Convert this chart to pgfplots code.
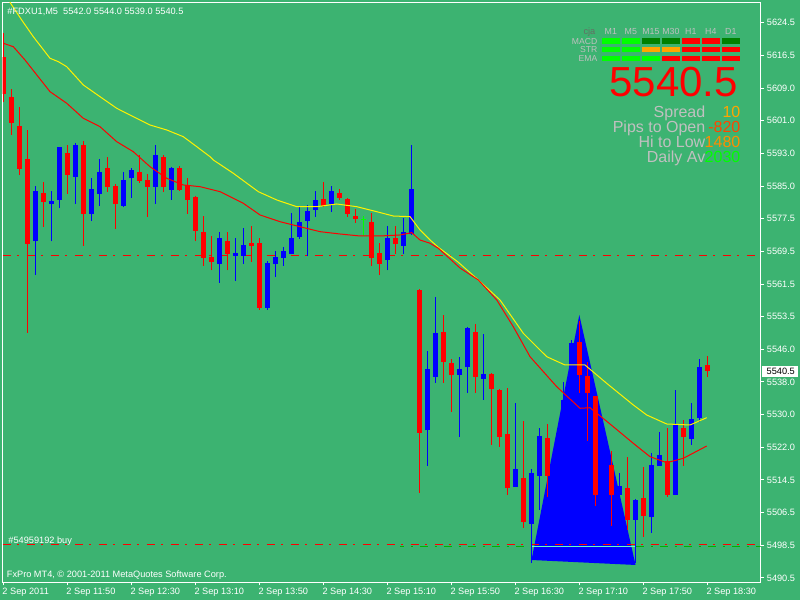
\documentclass[border=0pt]{standalone}
\usepackage{fontspec}
\setmainfont{Liberation Sans}
\usepackage{pgfplots}
\usepackage{pgfplotstable}
\pgfplotsset{compat=1.18}

\definecolor{bg}{RGB}{60,179,113}
\definecolor{lime}{RGB}{0,255,0}
\definecolor{dgreen}{RGB}{0,128,0}
\definecolor{orng}{RGB}{255,165,0}
\definecolor{dorng}{RGB}{255,140,0}
\definecolor{ored}{RGB}{255,69,0}
\definecolor{silv}{RGB}{192,192,192}
\definecolor{cjag}{RGB}{100,110,100}

\newcommand{\tf}{\fontsize{9.2bp}{11bp}\selectfont}

% k = bar index (5 min bars from 11:10), o h l c
\pgfplotstableread{
k o h l c
0 5616.1 5622.1 5605.4 5607.4
1 5606.6 5608.5 5597.4 5600.4
2 5599.6 5604.2 5587.8 5589.2
3 5591.6 5598.6 5549.7 5571.2
5 5583.4 5586.1 5575.3 5581.3
8 5593.1 5595.0 5583.2 5587.8
10 5595.0 5596.0 5570.7 5578.4
13 5589.4 5592.1 5583.7 5584.9
14 5585.1 5585.6 5574.8 5580.8
17 5588.5 5592.6 5585.9 5586.4
18 5586.5 5588.0 5577.7 5584.9
20 5592.1 5592.6 5583.7 5584.9
22 5589.4 5589.9 5584.0 5584.2
23 5585.3 5587.0 5578.4 5581.8
24 5582.4 5582.6 5571.7 5574.3
25 5574.1 5577.9 5565.9 5567.8
26 5568.0 5573.0 5564.7 5566.8
28 5571.8 5574.0 5564.7 5568.8
31 5571.3 5575.4 5566.8 5570.7
32 5571.3 5572.6 5555.2 5555.7
40 5582.0 5586.1 5580.1 5580.3
42 5583.4 5584.4 5581.7 5582.2
43 5582.0 5582.1 5577.7 5578.4
44 5577.9 5579.6 5576.2 5577.1
46 5576.4 5578.6 5565.9 5567.8
47 5568.9 5571.3 5563.7 5566.3
49 5572.6 5575.4 5568.8 5571.2
52 5560.0 5560.2 5511.1 5525.6
55 5549.9 5554.0 5537.6 5542.7
56 5542.4 5543.4 5530.6 5539.6
59 5549.9 5551.8 5535.1 5539.1
61 5539.7 5539.9 5522.7 5536.2
62 5535.9 5536.0 5522.2 5524.6
63 5525.3 5536.4 5510.6 5512.1
65 5514.6 5528.5 5502.6 5504.1
68 5524.4 5527.7 5510.1 5515.2
72 5547.5 5552.4 5535.2 5539.5
73 5539.3 5542.5 5523.6 5535.2
74 5534.4 5534.5 5507.9 5510.5
76 5517.8 5521.2 5503.1 5510.5
78 5512.3 5519.8 5502.1 5504.5
80 5509.9 5517.3 5500.5 5505.5
83 5518.7 5526.8 5510.1 5510.6
85 5526.8 5528.7 5517.6 5524.6
88 5542.0 5544.0 5539.0 5540.5
}\bear

\pgfplotstableread{
k o h l c
4 5571.7 5585.1 5563.7 5583.9
6 5580.8 5583.9 5571.7 5581.5
7 5581.8 5594.6 5579.9 5594.5
9 5587.3 5595.5 5580.8 5595.0
11 5578.4 5587.0 5576.7 5584.4
12 5583.2 5591.6 5580.3 5588.5
15 5580.3 5588.5 5580.0 5586.5
16 5586.9 5589.4 5582.3 5589.0
19 5584.9 5595.0 5580.8 5592.6
21 5584.2 5589.6 5581.8 5589.4
27 5566.3 5574.0 5561.8 5572.6
29 5568.3 5572.6 5562.2 5568.9
30 5568.3 5575.0 5566.3 5570.9
33 5555.7 5567.0 5555.2 5566.5
34 5566.3 5569.4 5563.2 5568.0
35 5567.8 5570.4 5565.9 5569.4
36 5568.8 5578.6 5568.6 5572.6
37 5572.9 5580.1 5572.4 5576.4
38 5576.7 5580.4 5568.3 5579.1
39 5579.3 5584.0 5577.7 5581.6
41 5580.8 5585.1 5578.8 5583.9
48 5567.3 5575.4 5564.7 5572.6
50 5570.7 5577.4 5568.8 5574.0
51 5573.4 5595.0 5573.3 5584.4
53 5526.1 5545.3 5517.6 5540.9
54 5539.1 5558.3 5537.6 5549.5
57 5539.6 5543.8 5524.6 5540.9
58 5541.3 5551.0 5535.1 5550.8
60 5538.6 5549.4 5533.5 5539.7
64 5512.5 5532.7 5512.4 5516.8
66 5503.6 5516.8 5494.1 5515.8
67 5515.2 5526.7 5506.9 5524.8
69 5504.5 5523.3 5502.1 5521.4
70 5516.6 5537.9 5514.2 5533.5
71 5533.5 5548.0 5531.0 5547.1
75 5510.5 5521.0 5507.8 5517.5
77 5510.5 5515.8 5505.0 5512.7
79 5504.5 5509.5 5494.0 5509.4
81 5505.1 5520.7 5501.4 5517.8
82 5517.6 5525.7 5517.5 5520.2
84 5510.6 5535.9 5510.5 5527.3
86 5524.1 5532.7 5522.7 5528.9
87 5529.2 5543.4 5528.2 5541.5
}\bull

\pgfplotstableread{
k o h l c
45 5576.9 5577.9 5573.0 5576.9
}\doji

\pgfplotsset{
  wick/.style={draw=none, no markers, error bars/.cd, y dir=plus, y explicit,
    error mark=none, error bar style={line width=1bp, draw=#1}},
  body/.style={draw=none, no markers, error bars/.cd, y dir=plus, y explicit,
    error mark=none, error bar style={line width=5bp, draw=#1}},
}

\begin{document}
\begin{tikzpicture}
\fill[bg] (0,0) rectangle (800bp,600bp);
\path[use as bounding box] (0,0) rectangle (800bp,600bp);
\begin{axis}[
  at={(2.7bp,17.7bp)}, anchor=south west,
  scale only axis, width=758bp, height=580bp,
  xmin=-0.075, xmax=94.675, ymin=5489.46, ymax=5629.42,
  axis line style={white, line width=1bp},
  tick style={white, line width=1bp},
  tick align=outside, major tick length=3bp,
  xtick pos=bottom, ytick pos=right, yticklabel pos=right,
  xtick={0,8,...,88},
  xticklabels={2 Sep 2011, 2 Sep 11:50, 2 Sep 12:30, 2 Sep 13:10, 2 Sep 13:50,
    2 Sep 14:30, 2 Sep 15:10, 2 Sep 15:50, 2 Sep 16:30, 2 Sep 17:10,
    2 Sep 17:50, 2 Sep 18:30},
  ytick={5624.5,5616.618,5608.735,5600.853,5592.971,5585.088,5577.206,5569.324,
    5561.441,5553.559,5545.676,5537.794,5529.912,5522.029,5514.147,5506.265,
    5498.382,5490.5},
  yticklabels={5624.5,5616.5,5609.0,5601.0,5593.0,5585.0,5577.5,5569.5,5561.5,
    5553.5,5546.0,5538.0,5530.0,5522.0,5514.5,5506.5,5498.5,5490.5},
  /pgf/number format/assume math mode=true,
  ticklabel style={font=\tf, text=white, inner sep=0pt},
  xticklabel style={anchor=north west, xshift=-1bp, yshift=-3bp},
  yticklabel style={anchor=west, xshift=3bp},
]
% triangle object
\addplot[draw=none, fill=blue] coordinates {(66.03,5494.84) (72.0,5553.97) (79.03,5493.64) (66.03,5494.84)};
% horizontal lines
\addplot[red, line width=1bp, dash pattern=on 8bp off 6.5bp on 2bp off 7.5bp] coordinates {(-0.1,5568.37) (95,5568.37)};
\addplot[red, line width=1bp, dash pattern=on 8bp off 6.5bp on 2bp off 7.5bp] coordinates {(-0.1,5498.63) (95,5498.63)};
\addplot[green!70!black, line width=1bp, dash pattern=on 8bp off 6.5bp on 2bp off 7.5bp, dash phase=4bp] coordinates {(49.6,5498.06) (95,5498.06)};
\addplot[green!40!cyan!60!white, line width=1bp] coordinates {(66.1,5498.06) (79.0,5498.06)};
% candles
\addplot[wick=red] table[x=k, y=l, y error plus expr=\thisrow{h}-\thisrow{l}] {\bear};
\addplot[body=red] table[x=k, y=c, y error plus expr=\thisrow{o}-\thisrow{c}] {\bear};
\addplot[wick=blue] table[x=k, y=l, y error plus expr=\thisrow{h}-\thisrow{l}] {\bull};
\addplot[body=blue] table[x=k, y=o, y error plus expr=\thisrow{c}-\thisrow{o}] {\bull};
\addplot[wick=lime] table[x=k, y=l, y error plus expr=\thisrow{h}-\thisrow{l}] {\doji};
\addplot[only marks, mark=-, mark size=2.7bp, lime, line width=1bp] table[x=k, y=c] {\doji};
% moving averages
\addplot[yellow, line width=1bp] coordinates {
(0,5632.13) (1.05,5628.77) (2.3,5625.15) (3.75,5621.12) (5.84,5615.91) (6.88,5615.09)
(7.93,5613.88) (10.0,5609.47) (12.09,5606.64) (14.18,5603.84) (16.25,5601.82)
(18.34,5599.81) (20.43,5598.61) (22.5,5596.99) (24.18,5594.58) (25.84,5592.16)
(26.25,5591.37) (28.75,5588.16) (31.88,5583.72) (34.18,5581.72) (36.68,5580.10)
(39.18,5580.10) (41.68,5580.75) (44.18,5580.10) (46.68,5578.89) (48.75,5577.85)
(50.84,5577.69) (52.09,5574.48) (53.34,5572.07) (54.38,5570.30) (56.84,5566.75)
(59.38,5562.41) (62.09,5557.59) (65.0,5549.55) (67.93,5543.90) (70.21,5541.90)
(72.71,5541.90) (75.42,5537.48) (78.75,5532.25) (80.43,5529.83) (82.93,5527.66)
(85.84,5527.42) (87.93,5529.18)};
\addplot[red, line width=1bp] coordinates {
(0,5619.53) (1.25,5618.71) (2.71,5615.50) (5.84,5607.85) (7.93,5605.05) (10.0,5601.43)
(12.09,5599.40) (14.18,5595.78) (16.25,5593.37) (18.34,5589.75) (20.43,5586.95)
(22.5,5585.34) (24.59,5584.93) (27.09,5583.72) (30.0,5580.92) (32.09,5578.10)
(34.59,5576.48) (37.09,5575.27) (39.59,5574.07) (42.09,5573.51) (44.59,5573.03)
(47.09,5573.03) (49.59,5573.27) (51.05,5573.83) (52.09,5572.06) (53.34,5571.27)
(54.38,5570.06) (57.09,5565.31) (59.38,5562.41) (61.68,5557.59) (63.75,5551.14)
(65.84,5543.90) (69.18,5536.66) (72.09,5531.45) (73.34,5531.59) (76.25,5527.01)
(78.75,5523.00) (80.84,5519.77) (82.93,5518.32) (85.0,5519.38) (87.93,5522.35)};
\end{axis}

\begin{scope}[x=1bp, y=-1bp, shift={(0,600bp)}]
\node[anchor=base west, inner sep=0pt, text=white, font=\tf] at (7.3,14.3) {\#FDXU1,M5\ \ 5542.0 5544.0 5539.0 5540.5};
\node[anchor=base west, inner sep=0pt, text=white, font=\tf] at (6.7,577.3) {FxPro MT4, © 2001-2011 MetaQuotes Software Corp.};
\node[anchor=base west, inner sep=0pt, text=white, font=\tf] at (8.3,543.3) {\#54959192 buy};
% last price label
\fill[white] (762.3,366.5) rectangle (797.7,376.9);
\node[anchor=west, inner sep=0pt, text=black, font=\tf] at (766.5,371.7) {5540.5};
% indicator panel
\node[anchor=base east, inner sep=0pt, text=cjag, font=\tf] at (595.5,35) {cja};
\foreach \t [count=\i from 0] in {M1,M5,M15,M30,H1,H4,D1}
  \node[anchor=base, inner sep=0pt, text=silv, font=\fontsize{8.8bp}{10bp}\selectfont] at (610.85+20*\i,35) {\t};
\foreach \t/\yy in {MACD/44.1,STR/52.8,EMA/61.8}
  \node[anchor=base east, inner sep=0pt, text=silv, font=\fontsize{8.6bp}{10bp}\selectfont] at (597.5,\yy) {\t};
\foreach \c [count=\i from 0] in {lime,lime,dgreen,dgreen,red,red,dgreen}
  \fill[\c] (601.7+20*\i,38.3) rectangle +(18.3,5.4);
\foreach \c [count=\i from 0] in {lime,lime,orng,orng,red,red,red}
  \fill[\c] (601.7+20*\i,47.0) rectangle +(18.3,5.4);
\foreach \c [count=\i from 0] in {lime,lime,lime,red,red,red,red}
  \fill[\c] (601.7+20*\i,56.0) rectangle +(18.3,5.4);
\node[anchor=base east, inner sep=0pt, text=red, font=\fontsize{42bp}{44bp}\selectfont] at (738,96.7) {5540.5};
\foreach \l/\v/\c/\yy in {Spread/10/orng/117.3, Pips to Open/-820/ored/132.3, Hi to Low/1480/dorng/147.3, Daily Av/2030/lime/162.3} {
  \node[anchor=base east, inner sep=0pt, text=silv, font=\fontsize{16bp}{18bp}\selectfont] at (705.5,\yy) {\l};
  \node[anchor=base east, inner sep=0pt, text=\c, font=\fontsize{16bp}{18bp}\selectfont] at (740.5,\yy) {\v};
}
\end{scope}
\end{tikzpicture}
\end{document}
